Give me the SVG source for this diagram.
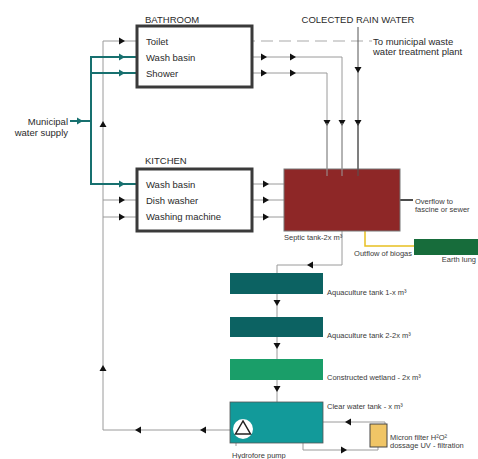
<svg xmlns="http://www.w3.org/2000/svg" xmlns:xlink="http://www.w3.org/1999/xlink" width="478" height="459" viewBox="0 0 478 459">
<style>
.t{font-family:"Liberation Sans",Arial,sans-serif;font-size:9.5px;fill:#2a2a2a}
.s{font-family:"Liberation Sans",Arial,sans-serif;font-size:7.5px;fill:#3a3a3a}
.g{fill:none;stroke:#9a9a9a;stroke-width:1}
.d{fill:none;stroke:#555;stroke-width:1}
.tl{fill:none;stroke:#17706f;stroke-width:2}
.box{fill:#fff;stroke:#3a3a3a;stroke-width:3}
.a{fill:#111}
.at{fill:#17706f}
</style>
<defs>
<path id="ar" d="M-3,-3.5 L3,0 L-3,3.5 Z"/>
</defs>
<rect width="478" height="459" fill="#fff"/>
<g id="connectors">
<path class="g" d="M243,430 H103 V41 H145"/>
<path class="g" d="M103,200 H145 M103,217 H145"/>
<path class="tl" d="M70,121 H91 M91,56 V184 H145 M91,57 H145 M91,73 H145"/>
<path fill="none" stroke="#aaa" stroke-width="1.2" stroke-dasharray="12,6" d="M243,41 H372"/>
<path class="g" d="M243,57 H342 V176 M243,73 H327 V176"/>
<path class="d" d="M358,27 V176"/>
<path class="g" d="M243,184 H284 M243,200 H284 M243,217 H284"/>
<path fill="none" stroke="#111" stroke-width="1.5" d="M392,200 H413"/>
<path fill="none" stroke="#e8c020" stroke-width="1.5" d="M365,223 V246 H414"/>
<path class="g" d="M342,220 V265 H277 V273"/>
<path class="g" d="M277,294 V317 M277,337 V359 M277,380 V402"/>
<path class="g" d="M323,422 H385 V424 M303,443 V450 H378 V447"/>
<path class="g" d="M236,436 V446"/>
<g class="a">
<use xlink:href="#ar" transform="translate(122,41)"/>
<use xlink:href="#ar" transform="translate(122,200)"/>
<use xlink:href="#ar" transform="translate(122,217)"/>
<use xlink:href="#ar" transform="translate(103,124) rotate(-90)"/>
<use xlink:href="#ar" transform="translate(103,368) rotate(-90)"/>
<use xlink:href="#ar" transform="translate(138,430) rotate(180)"/>
<use xlink:href="#ar" transform="translate(203,430) rotate(180)"/>
<use xlink:href="#ar" transform="translate(264,57)"/>
<use xlink:href="#ar" transform="translate(293,57)"/>
<use xlink:href="#ar" transform="translate(264,73)"/>
<use xlink:href="#ar" transform="translate(293,73)"/>
<use xlink:href="#ar" transform="translate(358,70) rotate(90)"/>
<use xlink:href="#ar" transform="translate(327,123) rotate(90)"/>
<use xlink:href="#ar" transform="translate(342,123) rotate(90)"/>
<use xlink:href="#ar" transform="translate(358,123) rotate(90)"/>
<use xlink:href="#ar" transform="translate(266,184)"/>
<use xlink:href="#ar" transform="translate(266,200)"/>
<use xlink:href="#ar" transform="translate(266,217)"/>
<use xlink:href="#ar" transform="translate(310,265) rotate(180)"/>
<use xlink:href="#ar" transform="translate(277,303) rotate(90)"/>
<use xlink:href="#ar" transform="translate(277,346) rotate(90)"/>
<use xlink:href="#ar" transform="translate(277,389) rotate(90)"/>
<use xlink:href="#ar" transform="translate(348,422) rotate(180)"/>
<use xlink:href="#ar" transform="translate(344,450)"/>
</g>
<g class="at">
<use xlink:href="#ar" transform="translate(80,121)"/>
<use xlink:href="#ar" transform="translate(122,57)"/>
<use xlink:href="#ar" transform="translate(122,73)"/>
<use xlink:href="#ar" transform="translate(122,184)"/>
</g>
</g>
<g id="supply">
<text class="t" x="68" y="124.5" text-anchor="end">Municipal</text>
<text class="t" x="68" y="135.5" text-anchor="end">water supply</text>
</g>
<g id="bathroom">
<rect class="box" x="137" y="26" width="115" height="61"/>
<text class="t" x="145" y="22.5">BATHROOM</text>
<text class="t" x="146" y="44.5">Toilet</text>
<text class="t" x="146" y="60.5">Wash basin</text>
<text class="t" x="146" y="76.5">Shower</text>
</g>
<g id="rain">
<text class="t" x="358" y="22.5" text-anchor="middle">COLECTED RAIN WATER</text>
</g>
<g id="wastewater">
<text class="t" x="373" y="44.5">To municipal waste</text>
<text class="t" x="373" y="55">water treatment plant</text>
</g>
<g id="kitchen">
<rect class="box" x="137" y="169" width="115" height="62"/>
<text class="t" x="145" y="164">KITCHEN</text>
<text class="t" x="146" y="187.5">Wash basin</text>
<text class="t" x="146" y="203.5">Dish washer</text>
<text class="t" x="146" y="220">Washing machine</text>
</g>
<g id="septic">
<rect x="284" y="169" width="116" height="62" fill="#8e2727" stroke="#777" stroke-width="1"/>
<path class="g" d="M327,123 V176 M342,123 V176"/>
<path class="d" d="M358,123 V176"/>
<text class="s" x="284" y="240">Septic tank-2x m³</text>
</g>
<g id="overflow">
<text class="s" x="415" y="203.5">Overflow to</text>
<text class="s" x="415" y="212">fascine or sewer</text>
</g>
<g id="earthlung">
<rect x="414" y="239" width="70" height="16" fill="#176c3b"/>
<text class="s" x="412" y="256" text-anchor="end">Outflow of biogas</text>
<text class="s" x="476" y="262" text-anchor="end">Earth lung</text>
</g>
<g id="aqua1">
<rect x="230" y="273" width="93" height="21" fill="#0c6262"/>
<text class="s" x="327" y="295">Aquaculture tank 1-x m³</text>
</g>
<g id="aqua2">
<rect x="230" y="317" width="93" height="20" fill="#0c6262"/>
<text class="s" x="327" y="338">Aquaculture tank 2-2x m³</text>
</g>
<g id="wetland">
<rect x="230" y="359" width="93" height="21" fill="#1a9e69"/>
<text class="s" x="327" y="380">Constructed wetland - 2x m³</text>
</g>
<g id="clearwater">
<rect x="230" y="402" width="93" height="41" fill="#129a9a" stroke="#555" stroke-width="0.8"/>
<text class="s" x="327" y="409">Clear water tank - x m³</text>
</g>
<g id="pump">
<circle cx="243" cy="429" r="10" fill="#fff"/>
<path d="M243,421 L235.5,434 L250.5,434 Z" fill="none" stroke="#222" stroke-width="1.5"/>
<text class="s" x="232" y="458">Hydrofore pump</text>
</g>
<g id="filter">
<rect x="370" y="424" width="17" height="23" fill="#f0c566" stroke="#444" stroke-width="1"/>
<text class="s" x="390" y="439.5">Micron filter H²O²</text>
<text class="s" x="390" y="448">dossage UV - filtration</text>
</g>
</svg>
